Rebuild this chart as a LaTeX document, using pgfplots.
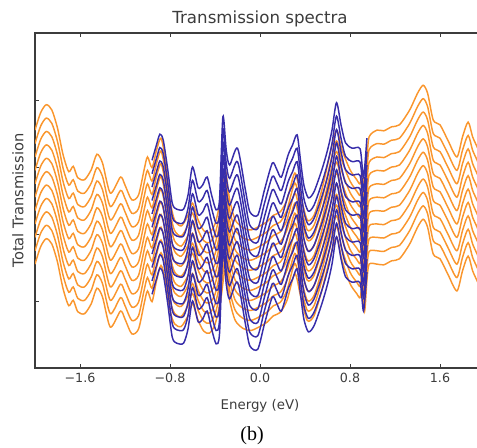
\documentclass[border=0pt]{standalone}
\usepackage{fontspec}
\setmainfont{DejaVu Sans}
\newfontfamily\capfont{Liberation Serif}
\usepackage{pgfplots}
\usepackage{pgfplotstable}
\pgfplotsset{compat=1.18}
\definecolor{specorange}{RGB}{250,150,45}
\definecolor{specblue}{RGB}{55,45,170}
\definecolor{framegray}{RGB}{60,60,60}

% T: top curve of each stack, D: drop from the top curve to the bottom one
% (eleven curves, evenly stacked between them)
\pgfplotstableread{
E T D
-2.00 3.55 2.0
-1.95 3.81 2.0
-1.90 3.93 2.0
-1.85 3.85 2.0
-1.80 3.58 2.0
-1.75 3.18 2.0
-1.70 2.93 2.0
-1.66 3.01 2.0
-1.62 2.84 2.0
-1.56 2.81 2.0
-1.50 2.96 2.0
-1.45 3.19 2.0
-1.40 3.06 2.0
-1.33 2.61 2.0
-1.24 2.85 2.0
-1.20 2.73 2.0
-1.14 2.51 2.0
-1.08 2.58 2.0
-1.03 2.96 2.0
-1.00 3.15 2.0
-0.96 2.99 2.0
-0.92 3.25 1.95
-0.88 3.43 1.9
-0.84 3.10 1.8
-0.80 2.51 1.65
-0.76 2.21 1.55
-0.70 2.12 1.5
-0.64 2.28 1.5
-0.60 2.46 1.5
-0.55 2.21 1.5
-0.50 2.05 1.5
-0.45 2.02 1.5
-0.40 2.15 1.5
-0.35 2.51 1.5
-0.31 2.96 1.5
-0.27 2.51 1.5
-0.22 2.21 1.5
-0.15 2.09 1.5
-0.08 2.06 1.5
0.00 2.12 1.5
0.06 2.18 1.5
0.12 2.28 1.5
0.18 2.33 1.5
0.24 2.51 1.5
0.31 2.91 1.5
0.36 2.58 1.5
0.42 2.21 1.5
0.48 2.28 1.5
0.55 2.66 1.5
0.62 3.18 1.55
0.68 3.55 1.6
0.73 3.25 1.65
0.80 2.96 1.7
0.86 2.81 1.7
0.89 2.75 1.7
0.91 2.95 1.7
0.93 2.60 1.75
0.95 3.10 1.8
0.97 3.45 1.9
1.04 3.55 2.0
1.10 3.54 2.0
1.17 3.60 2.0
1.24 3.63 2.0
1.33 3.85 2.0
1.40 4.10 2.0
1.45 4.22 2.0
1.49 4.10 2.0
1.54 3.70 2.0
1.60 3.63 2.0
1.67 3.40 2.0
1.75 3.15 2.0
1.80 3.45 2.0
1.85 3.67 2.0
1.89 3.45 2.0
1.93 3.30 2.0
2.00 3.03 2.0
}\orangetop

\pgfplotstableread{
E T D
-0.96 3.10 2.0
-0.92 3.33 2.0
-0.89 3.49 2.0
-0.86 3.40 2.0
-0.82 2.96 2.0
-0.78 2.46 2.0
-0.74 2.37 2.0
-0.68 2.37 2.0
-0.64 2.58 2.0
-0.60 3.00 2.0
-0.55 2.69 2.0
-0.51 2.73 2.0
-0.47 2.85 2.0
-0.43 2.58 2.0
-0.39 2.36 2.0
-0.36 2.51 2.0
-0.33 3.75 2.0
-0.30 3.25 2.0
-0.27 3.03 2.0
-0.20 3.28 2.0
-0.13 2.66 2.0
-0.09 2.33 2.0
-0.02 2.28 2.0
0.04 2.66 2.0
0.11 3.06 2.0
0.15 2.96 2.0
0.19 2.85 2.0
0.25 3.18 2.0
0.29 3.33 2.0
0.33 3.48 2.0
0.36 3.10 2.0
0.39 2.73 2.0
0.43 2.54 2.0
0.48 2.63 2.0
0.55 2.96 2.0
0.60 3.25 2.0
0.64 3.55 2.0
0.68 3.96 2.0
0.72 3.63 2.0
0.76 3.36 2.0
0.82 3.28 2.0
0.89 3.27 2.0
0.92 2.85 2.0
0.95 3.43 2.0
}\bluetop

\begin{document}
\begin{tikzpicture}
\useasboundingbox (0pt,0pt) rectangle (357.75pt,335.25pt);
\begin{axis}[
    at={(26.25pt,59.25pt)}, anchor=south west,
    scale only axis,
    width=337.5pt, height=251.25pt,
    xmin=-2, xmax=2, ymin=0, ymax=5,
    xtick={-1.6,-0.8,0,0.8,1.6},
    xticklabels={−1.6,−0.8,0.0,0.8,1.6},
    ytick={0,1,2,3,4,5}, yticklabels={},
    tick align=inside,
    major tick length=3pt,
    tick style={framegray, line width=0.7pt},
    axis line style={framegray, line width=0.9pt},
    ticklabel style={font=\fontsize{9.5}{11}\selectfont, text=framegray},
    title={Transmission spectra},
    title style={at={(axis description cs:0.5,1)}, anchor=base, yshift=1pt,
        font=\fontsize{12.5}{14}\selectfont, text=framegray},
    xlabel={Energy (eV)},
    xlabel style={at={(axis description cs:0.5,0)}, anchor=north, yshift=-20pt,
        font=\fontsize{10}{12}\selectfont, text=framegray},
    ylabel={Total Transmission},
    ylabel style={at={(axis description cs:-0.038,0.5)}, anchor=center,
        font=\fontsize{11}{13}\selectfont, text=framegray},
    every axis plot/.append style={line width=1.1pt, smooth, tension=0.45},
]
\pgfplotsinvokeforeach{0,...,10}{
  \addplot[specorange] table[x=E, y expr=\thisrow{T}-\thisrow{D}*#1/10] {\orangetop};
}
\pgfplotsinvokeforeach{0,...,10}{
  \addplot[specblue] table[x=E, y expr=\thisrow{T}-\thisrow{D}*#1/10] {\bluetop};
}
\end{axis}
\node[font=\capfont\fontsize{15}{17}\selectfont] at (189pt,8.25pt) {(b)};
\end{tikzpicture}
\end{document}
